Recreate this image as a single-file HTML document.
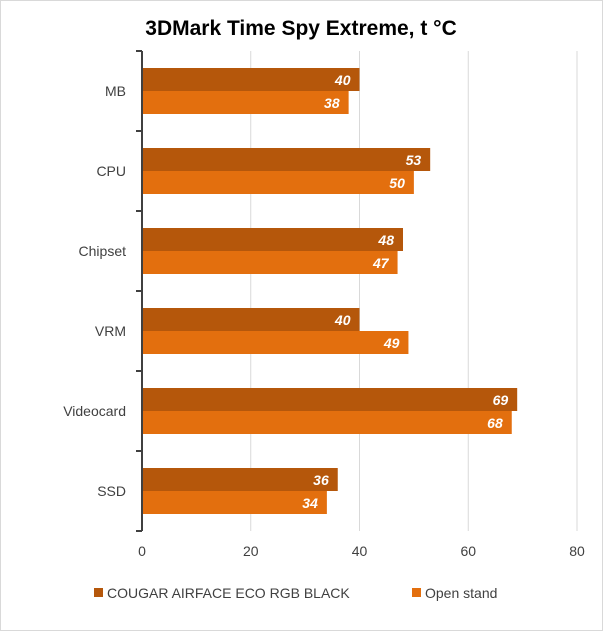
<!DOCTYPE html>
<html><head><meta charset="utf-8"><style>
body{margin:0;background:#fff;}
svg{display:block;font-family:"Liberation Sans",sans-serif;}
</style></head><body>
<svg id="chart" width="603" height="631" viewBox="0 0 603 631">
<rect x="0.5" y="0.5" width="602" height="630" fill="#fff" stroke="#d9d9d9"/>
<text x="301" y="35" text-anchor="middle" font-size="21" font-weight="bold" fill="#000">3DMark Time Spy Extreme, t °C</text>
<g id="grid"></g><g id="bars"></g><g id="axes"></g>
<g>
<rect x="94" y="588" width="9" height="9" fill="#B5570B"/>
<text x="107" y="598" font-size="14" fill="#404040">COUGAR AIRFACE ECO RGB BLACK</text>
<rect x="412" y="588" width="9" height="9" fill="#E36F0E"/>
<text x="425" y="598" font-size="14" fill="#404040">Open stand</text>
</g>
</svg>
<script>
const categories=["MB","CPU","Chipset","VRM","Videocard","SSD"];
const cougar=[40,53,48,40,69,36];
const openStand=[38,50,47,49,68,34];
const ticks=[0,20,40,60,80];
const NS="http://www.w3.org/2000/svg";
const x0=142,x1=577,yTop=51,band=80,xMax=80;
const xs=v=>x0+(v/xMax)*(x1-x0);
function mk(tag,attrs,parent){const e=document.createElementNS(NS,tag);for(const k in attrs)e.setAttribute(k,attrs[k]);parent.appendChild(e);return e;}
const grid=document.getElementById('grid'),bars=document.getElementById('bars'),axes=document.getElementById('axes');
ticks.forEach(t=>{
 if(t>0){const l=mk('line',{x1:xs(t),x2:xs(t),y1:yTop,y2:yTop+band*categories.length,stroke:'#d9d9d9','stroke-width':1},grid);
 
 }
 const tx=mk('text',{x:xs(t),y:556,'text-anchor':'middle','font-size':14,fill:'#404040'},axes);
 tx.textContent=t;
 
 
});
const series=[{v:cougar,c:'#B5570B',n:'cougar',off:17},{v:openStand,c:'#E36F0E',n:'open-stand',off:40}];
categories.forEach((cat,i)=>{
 const by=yTop+i*band;
 series.forEach(s=>{
  const r=mk('rect',{x:x0,y:by+s.off,width:xs(s.v[i])-x0,height:23,fill:s.c},bars);
  
  
  const t=mk('text',{x:xs(s.v[i])-9,y:by+s.off+17,'text-anchor':'end','font-size':14,'font-weight':'bold','font-style':'italic',fill:'#fff'},bars);
  t.textContent=s.v[i];
  
  
 });
 const cl=mk('text',{x:126,y:by+band/2+5,'text-anchor':'end','font-size':14,fill:'#404040'},axes);
 cl.textContent=cat;
 
 
});
const ax=mk('line',{x1:x0,x2:x0,y1:yTop,y2:yTop+band*categories.length,stroke:'#404040','stroke-width':2},axes);


for(let i=0;i<=categories.length;i++){
 const tk=mk('line',{x1:x0-6,x2:x0,y1:yTop+i*band,y2:yTop+i*band,stroke:'#404040','stroke-width':2},axes);
 
 
}
</script>
</body></html>
